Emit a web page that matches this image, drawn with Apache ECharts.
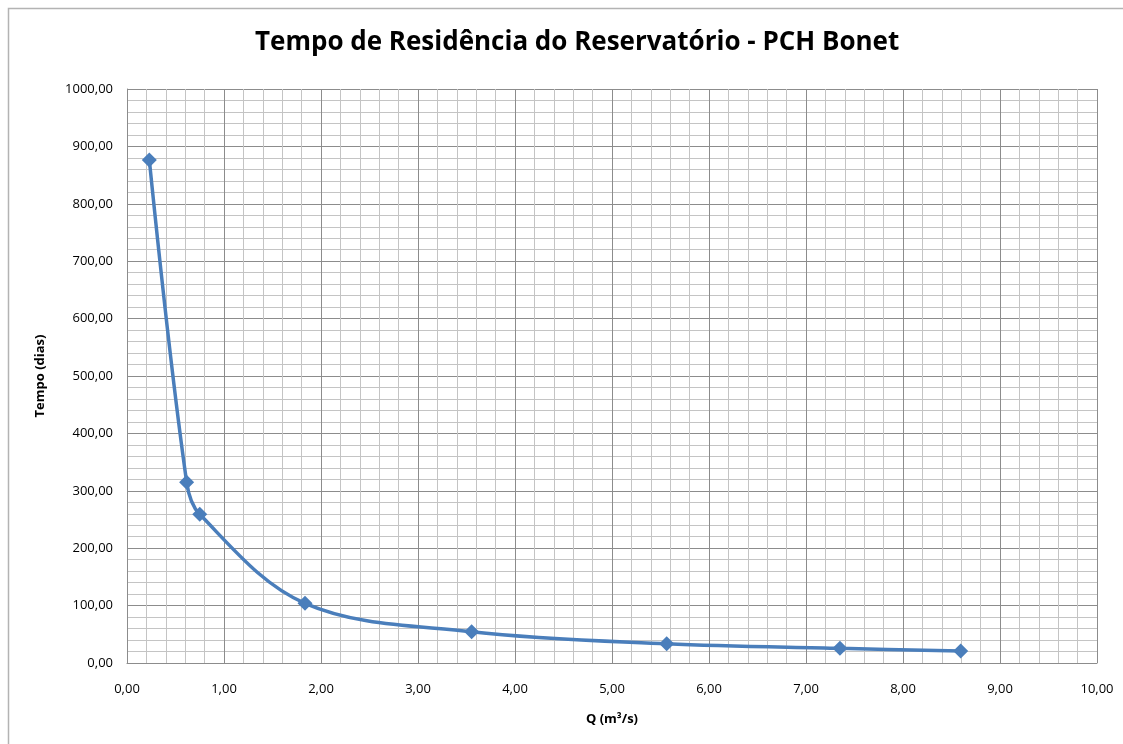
<!DOCTYPE html>
<html>
<head>
<meta charset="utf-8">
<script src="https://cdn.jsdelivr.net/npm/echarts@6/dist/echarts.min.js"></script>
<style>
  html, body { margin: 0; padding: 0; background: #fff; }
  #chart { width: 1123px; height: 744px; }
</style>
</head>
<body>
<div id="chart"></div>
<script>
// vazão (m³/s) e tempo de residência (dias)
const vazao = [0.23, 0.615, 0.75, 1.835, 3.553, 5.564, 7.35, 8.595]
const tempo = [876.5, 315, 259, 104, 54.5, 33.5, 25.5, 21]

const fmt = v => v.toFixed(2).replace('.', ',')

const myChart = echarts.init(document.getElementById('chart'))
myChart.setOption({
  animation: false,
  graphic: [{
    type: 'rect',
    shape: { x: 8.5, y: 8.5, width: 1200, height: 800 },
    style: { fill: 'none', stroke: '#b3b3b3', lineWidth: 1.5 }
  }],
  title: {
    text: 'Tempo de Residência do Reservatório - PCH Bonet',
    left: 250,
    top: 25,
    textStyle: {
      fontFamily: 'Open Sans',
      fontWeight: 'bold',
      fontSize: 26,
      color: '#000'
    }
  },
  grid: {
    left: 127,
    right: 26,
    top: 89,
    bottom: 81
  },
  xAxis: {
    type: 'value',
    min: 0,
    max: 10,
    interval: 1,
    name: 'Q (m³/s)',
    nameLocation: 'middle',
    nameGap: 50,
    nameTextStyle: { fontFamily: 'Open Sans', fontWeight: 'bold', fontSize: 13, color: '#000' },
    axisLine: { show: true, lineStyle: { color: '#8c8c8c', width: 1 } },
    axisTick: { show: false },
    axisLabel: { formatter: fmt, color: '#000', fontFamily: 'Open Sans', fontSize: 13, margin: 20 },
    splitLine: { show: true, lineStyle: { color: '#8c8c8c', width: 1 } },
    minorTick: { show: false, splitNumber: 5 },
    minorSplitLine: { show: true, lineStyle: { color: '#c4c4c4', width: 1 } }
  },
  yAxis: {
    type: 'value',
    min: 0,
    max: 1000,
    interval: 100,
    name: 'Tempo (dias)',
    nameLocation: 'middle',
    nameRotate: 90,
    nameGap: 80,
    nameTextStyle: { fontFamily: 'Open Sans', fontWeight: 'bold', fontSize: 13, color: '#000' },
    axisLine: { show: true, lineStyle: { color: '#8c8c8c', width: 1 } },
    axisTick: { show: false },
    axisLabel: { formatter: fmt, color: '#000', fontFamily: 'Open Sans', fontSize: 13, margin: 14 },
    splitLine: { show: true, lineStyle: { color: '#8c8c8c', width: 1 } },
    minorTick: { show: false, splitNumber: 5 },
    minorSplitLine: { show: true, lineStyle: { color: '#c4c4c4', width: 1 } }
  },
  series: [{
    type: 'line',
    data: vazao.map((x, i) => [x, tempo[i]]),
    smooth: 0.35,
    symbol: 'diamond',
    symbolSize: 15,
    lineStyle: { color: '#4a7ebb', width: 3.5 },
    itemStyle: { color: '#4a7ebb' }
  }]
})
</script>
</body>
</html>
